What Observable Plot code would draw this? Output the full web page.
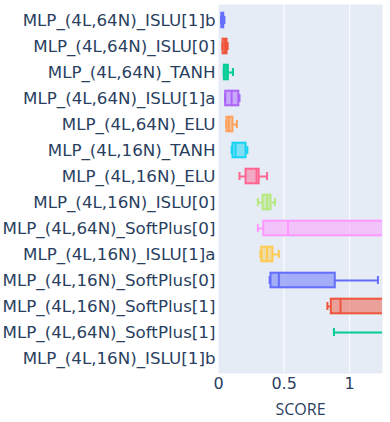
<!DOCTYPE html>
<html>
<head>
<meta charset="utf-8">
<script src="https://cdn.jsdelivr.net/npm/d3@7"></script>
<script src="https://cdn.jsdelivr.net/npm/@observablehq/plot@0.6"></script>
<style>
  html, body { margin: 0; padding: 0; background: #fff; }
</style>
</head>
<body>
<div id="chart"></div>
<script>
const categories = [
  "MLP_(4L,64N)_ISLU[1]b",
  "MLP_(4L,64N)_ISLU[0]",
  "MLP_(4L,64N)_TANH",
  "MLP_(4L,64N)_ISLU[1]a",
  "MLP_(4L,64N)_ELU",
  "MLP_(4L,16N)_TANH",
  "MLP_(4L,16N)_ELU",
  "MLP_(4L,16N)_ISLU[0]",
  "MLP_(4L,64N)_SoftPlus[0]",
  "MLP_(4L,16N)_ISLU[1]a",
  "MLP_(4L,16N)_SoftPlus[0]",
  "MLP_(4L,16N)_SoftPlus[1]",
  "MLP_(4L,64N)_SoftPlus[1]",
  "MLP_(4L,16N)_ISLU[1]b"
];
const mins    = [0.02, 0.03, 0.04, 0.05, 0.06, 0.10, 0.16, 0.30, 0.30, 0.32, 0.39, 0.83, 0.88, 1.40];
const q1s     = [0.025,0.035,0.045,0.055,0.065,0.11, 0.21, 0.34, 0.345,0.33, 0.40, 0.86, 1.30, 1.60];
const medians = [0.03, 0.05, 0.06, 0.10, 0.08, 0.13, 0.29, 0.37, 0.53, 0.37, 0.46, 0.93, 1.50, 1.80];
const q3s     = [0.04, 0.065,0.075,0.155,0.11, 0.21, 0.31, 0.40, 1.60, 0.415,0.89, 1.40, 1.80, 2.10];
const maxs    = [0.045,0.07, 0.11, 0.16, 0.14, 0.22, 0.37, 0.43, 2.60, 0.46, 1.215,1.70, 2.40, 2.60];
const colors  = ["#636efa","#EF553B","#00cc96","#ab63fa","#FFA15A","#19d3f3","#FF6692","#B6E880","#FF97FF","#FECB52","#636efa","#EF553B","#00cc96","#ab63fa"];
const xTicks = [0, 0.5, 1];
const xTickLabels = ["0", "0.5", "1"];
const xTitle = "SCORE";

const rows = categories.map((c, i) => ({
  cat: c, min: mins[i], q1: q1s[i], med: medians[i], q3: q3s[i], max: maxs[i], color: colors[i]
}));

const font = "'DejaVu Sans', Verdana, sans-serif";
const textColor = "#2a3f5f";

const chart = Plot.plot({
  width: 390,
  height: 422,
  marginLeft: 218,
  marginRight: 8,
  marginTop: 4,
  marginBottom: 49,
  style: { fontFamily: font, fontSize: "16px", color: textColor, background: "#fff" },
  x: { domain: [0, 1.25] },
  y: { domain: categories, padding: 0 },
  marks: [
    Plot.frame({ fill: "#E5ECF6", stroke: null }),
    Plot.gridX(xTicks.slice(1), { stroke: "#fff", strokeOpacity: 1, strokeWidth: 1 }),
    Plot.ruleY(rows, { y: "cat", x1: "min", x2: "q1", stroke: "color", strokeWidth: 2, clip: true }),
    Plot.ruleY(rows, { y: "cat", x1: "q3", x2: "max", stroke: "color", strokeWidth: 2, clip: true }),
    Plot.tickX(rows, { x: "min", y: "cat", stroke: "color", strokeWidth: 2, insetTop: 9, insetBottom: 9, clip: true }),
    Plot.tickX(rows, { x: "max", y: "cat", stroke: "color", strokeWidth: 2, insetTop: 9, insetBottom: 9, clip: true }),
    Plot.barX(rows, { y: "cat", x1: "q1", x2: "q3", fill: "color", fillOpacity: 0.5, stroke: "color", strokeWidth: 2, insetTop: 5.7, insetBottom: 5.7, clip: true }),
    Plot.tickX(rows, { x: "med", y: "cat", stroke: "color", strokeWidth: 2, insetTop: 5.7, insetBottom: 5.7, clip: true }),
    Plot.axisY({ tickSize: 0, tickPadding: 3, label: null, fill: textColor, fontSize: 16.7 }),
    Plot.axisX({ ticks: xTicks, tickFormat: (d) => xTickLabels[xTicks.indexOf(d)], tickSize: 0, tickPadding: 4, fill: textColor, fontSize: 16, label: null }),
    Plot.axisX({ ticks: [], tickSize: 0, fill: textColor, fontSize: 16, fontFamily: "'Open Sans', sans-serif",
      label: xTitle, labelAnchor: "center", labelArrow: "none", labelOffset: 41 })
  ]
});
document.getElementById("chart").appendChild(chart);
</script>
</body>
</html>
